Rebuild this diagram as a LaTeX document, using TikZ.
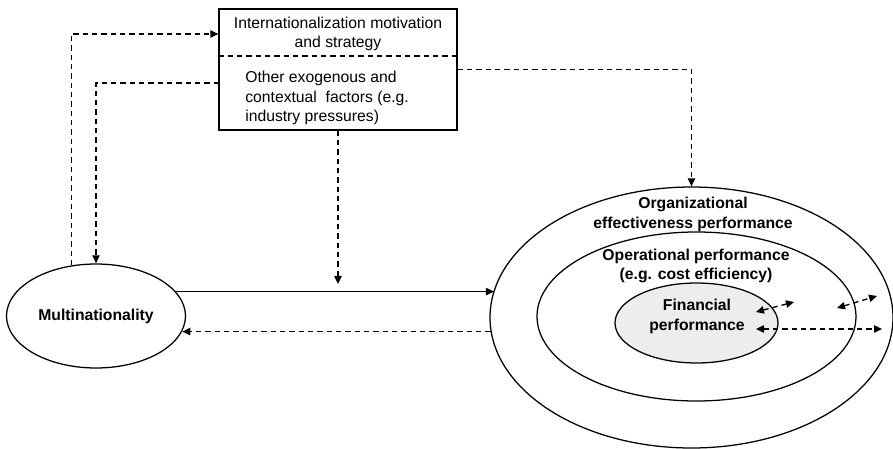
\documentclass[tikz,border=0pt]{standalone}
\usepackage{fontspec}
\setmainfont{Liberation Sans}
\usetikzlibrary{shapes.geometric, arrows.meta}

\begin{document}
\begin{tikzpicture}[x=0.75pt, y=-0.75pt, color=black, >={Triangle[length=6pt, width=5.5pt]},
  font=\fontsize{11.8}{14.5}\selectfont,
  oval/.style={draw, ellipse, line width=0.95pt, inner sep=0pt},
  box/.style={draw, rectangle, line width=0.95pt, inner sep=0pt},
  dashline/.style={line width=1pt, dash pattern=on 4pt off 3pt},
  label/.style={font=\fontsize{11.8}{14.5}\selectfont\bfseries, align=center, inner sep=0pt}]
  \useasboundingbox (0,0) rectangle (893,449);
  % Context box with its two parts
  \node[box, minimum width=178.5pt, minimum height=90.75pt] (factors) at (338,69.5) {};
  \node[align=center, inner sep=0pt] (motive) at (338,34) {Internationalization motivation\\and strategy};
  \node[align=left, inner sep=0pt, anchor=west] (context) at (245,98) {Other exogenous and\\contextual\ \ factors (e.g.\\industry pressures)};
  \coordinate (divider) at (338,56);
  \draw[dashline] (factors.west |- divider) -- (factors.east |- divider);
  % Multinationality and the nested performance ellipses
  \node[oval, minimum width=134.25pt, minimum height=78pt, label] (multi) at (96,316) {Multinationality};
  \node[oval, minimum width=302.25pt, minimum height=195.75pt] (outer) at (691.5,317.5) {};
  \node[oval, minimum width=239.25pt, minimum height=126.75pt] (middle) at (696.5,316.5) {};
  \node[oval, fill=black!7, minimum width=122.25pt, minimum height=60pt] (inner) at (696.5,323) {};
  \node[label] (organ) at (693,214.5) {Organizational\\effectiveness performance};
  \node[label] (oper) at (696,266) {Operational performance\\(e.g. cost efficiency)};
  \node[label] (fin) at (697,316.5) {Financial\\performance};
  % Links
  \coordinate (ctxtap) at (219,83);
  \coordinate (modtip) at (338,284);
  \draw[dashline, ->] (multi.116) |- (factors.west |- motive);
  \draw[dashline, ->] (ctxtap) -| (multi.north);
  \draw[dashline, ->] (factors.south) -- (modtip);
  \draw[dashline, ->] (factors.east) -| (outer.north);
  \draw[line width=0.95pt, ->] (multi.17) -- (multi.17 -| outer.172.5);
  \draw[dashline, ->] (outer.184) -- (outer.184 -| multi.-10);
  % Feedback between the performance levels
  \coordinate (fa) at (756,312);
  \coordinate (fb) at (794,302);
  \coordinate (oa) at (837,308);
  \coordinate (ob) at (877,296);
  \coordinate (ha) at (756,329);
  \coordinate (hb) at (882,329);
  \draw[dashline, <->] (fa) -- (fb);
  \draw[dashline, <->] (oa) -- (ob);
  \draw[dashline, <->] (ha) -- (hb);
\end{tikzpicture}
\end{document}
